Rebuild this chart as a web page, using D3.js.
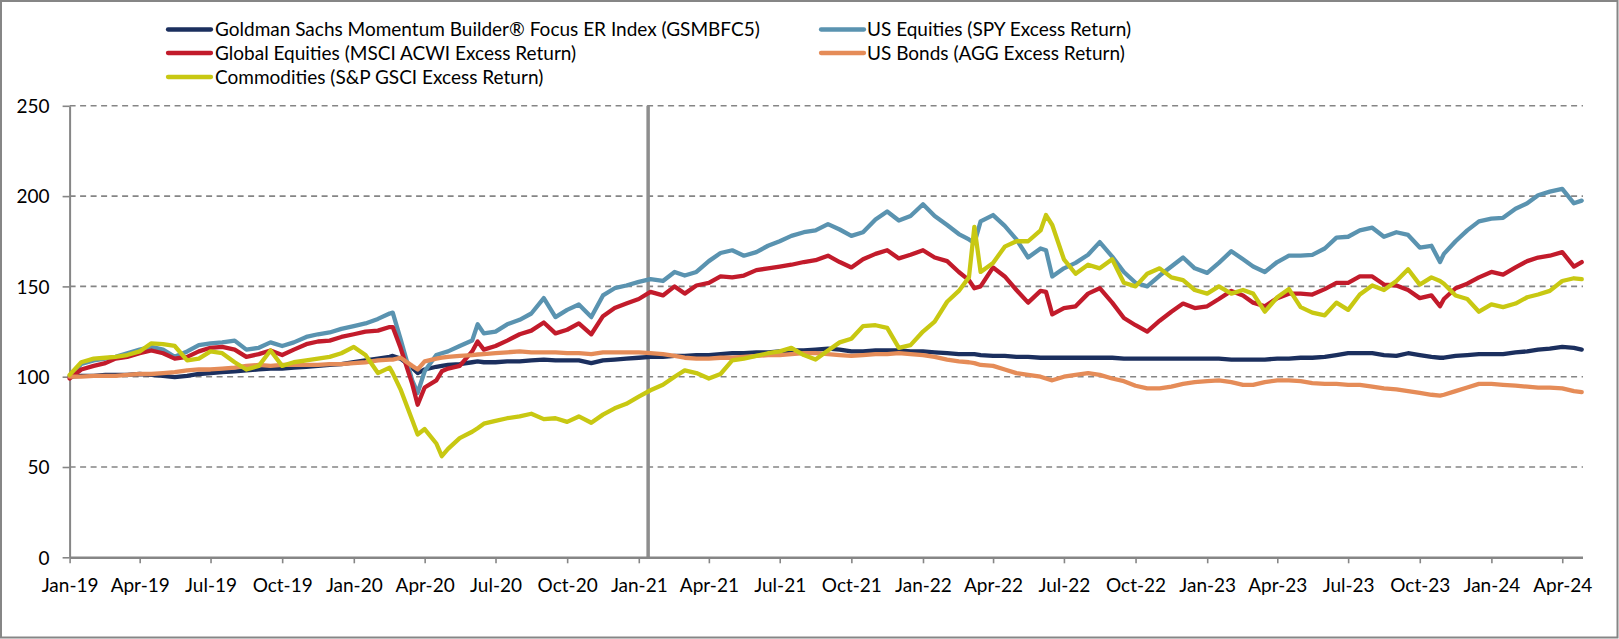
<!DOCTYPE html>
<html>
<head>
<meta charset="utf-8">
<script src="https://cdn.jsdelivr.net/npm/d3@7/dist/d3.min.js"></script>
<style>
  html, body { margin: 0; padding: 0; background: #fff; }
  svg { display: block; }
  text { font-family: Lato, "Liberation Sans", Arial, sans-serif; fill: #000; }
</style>
</head>
<body>
<svg id="chart" width="1619" height="639"></svg>
<script>
// ---------- DATA ----------
const dates = [
  "2019-01-01","2019-01-16","2019-02-01","2019-02-16","2019-03-01","2019-03-16","2019-04-01","2019-04-16","2019-05-01","2019-05-16","2019-06-01","2019-06-16",
  "2019-07-01","2019-07-16","2019-08-01","2019-08-16","2019-09-01","2019-09-16","2019-10-01","2019-10-16","2019-11-01","2019-11-16","2019-12-01","2019-12-16",
  "2020-01-01","2020-01-16","2020-02-01","2020-02-16","2020-02-20","2020-03-01","2020-03-16","2020-03-23","2020-04-01","2020-04-16","2020-04-23","2020-05-01","2020-05-16",
  "2020-06-01","2020-06-08","2020-06-16","2020-07-01","2020-07-16","2020-08-01","2020-08-16","2020-09-01","2020-09-16","2020-10-01","2020-10-16","2020-11-01","2020-11-16","2020-12-01","2020-12-16",
  "2021-01-01","2021-01-16","2021-02-01","2021-02-16","2021-03-01","2021-03-16","2021-04-01","2021-04-16","2021-05-01","2021-05-16","2021-06-01","2021-06-16",
  "2021-07-01","2021-07-16","2021-08-01","2021-08-16","2021-09-01","2021-09-16","2021-10-01","2021-10-16","2021-11-01","2021-11-16","2021-12-01","2021-12-16",
  "2022-01-01","2022-01-16","2022-02-01","2022-02-16","2022-03-01","2022-03-08","2022-03-16","2022-04-01","2022-04-16","2022-05-01","2022-05-16","2022-06-01","2022-06-08","2022-06-16",
  "2022-07-01","2022-07-16","2022-08-01","2022-08-16","2022-09-01","2022-09-16","2022-10-01","2022-10-16","2022-11-01","2022-11-16","2022-12-01","2022-12-16",
  "2023-01-01","2023-01-16","2023-02-01","2023-02-16","2023-03-01","2023-03-16","2023-04-01","2023-04-16","2023-05-01","2023-05-16","2023-06-01","2023-06-16",
  "2023-07-01","2023-07-16","2023-08-01","2023-08-16","2023-09-01","2023-09-16","2023-10-01","2023-10-16","2023-10-27","2023-11-01","2023-11-16","2023-12-01","2023-12-16",
  "2024-01-01","2024-01-16","2024-02-01","2024-02-16","2024-03-01","2024-03-16","2024-04-01","2024-04-16","2024-04-26"
];

const gsmbfc5 = [
  100,100.5,100.5,101,101,101,101.5,101,100.5,99.8,100.5,101.5,102,102.5,103,103.5,104,104.5,104.5,105,105.5,106,106.5,107,
  108,109,110,111,111.5,110,105,102,104,105.5,106,106.5,107,108,108.5,108,108,108.5,108.5,109,109.5,109,109,109,107.5,109,109.5,110,
  110.5,111,111,111.5,111.5,112,112,112.5,113,113,113.5,113.5,114,114.5,114.5,115,115.5,115,114,114,114.5,114.5,114.5,114,
  114,113.5,113,112.5,112.5,112.5,112,111.5,111.5,111,111,110.5,110.5,110.5,110.5,110.5,110.5,110.5,110.5,110,110,110,110,110,110,110,
  110,110,109.5,109.5,109.5,109.5,110,110,110.5,110.5,111,112,113,113,113,112,111.5,113,112,111,110.5,110.5,111.5,112,112.5,
  112.5,112.5,113.5,114,115,115.5,116.5,116,115
];

const spy = [
  100,107,109,110,111,113,115,116.5,115,111,114,117.5,118.5,119,120,115,116,119,117,119,122,123.5,124.5,126.5,
  128,129.5,132,135,135.5,121,98,91,103,112,113,114,117,120,129,124,125,129,131.5,135,143.5,133,137,140,133,145,149,150.5,
  152.5,154,153,158,156,158,164,168.5,170,167,169,172.5,175,178,180,181,184.5,181.5,178,180,187,191.5,186.5,189,
  195.5,189,184,179,176,174,186,189.5,183.5,176,166,171,170,155.5,160,163,167.5,174.5,166.5,158,152,150,156,161,166,160,
  157.5,163,169.5,165,161,158,163.5,167,167,167.5,171,177,177.5,181,182.5,177.5,180,178.5,171.5,172.5,163.5,168,175,181,186,
  187.5,188,193,196,200.5,202.5,204,196,197.5
];

const acwi = [
  99,104,106,107.5,110,111,113,114.5,113,110,111,114,116,116.5,115,111,112.5,114.5,112,115,118,119.5,120,122,
  123.5,125,125.5,127.5,127.5,116,96,84.5,94,98,103,104.5,106,114,119.5,115,117,120,123.5,125.5,130,124,126,129.5,123.5,133.5,138,140.5,
  143,147,145,150,146,150.5,152,155.5,155,156,159,160,161,162,163.5,164.5,167,163.5,160.5,165,168,170,165.5,167.5,
  170,166,164,158,153.5,149,150,160.5,155.5,148,141,147.5,147,134.5,138,139,146,149,141,132.5,128.5,125,131,136,140.5,138,
  139,143,147.5,145,141,139,143.5,146,146,145.5,148.5,152,152,155.5,155.5,151,150.5,148,143.5,145,139,143,149,151.5,155,
  158,156.5,160.5,164,166,167,169,161,163.5
];

const agg = [
  100,100,100.5,100.5,100.5,101,101.5,101.5,102,102.5,103.5,104,104,104.5,105,106,106.5,106,106.5,106.5,106.5,106.5,107,107,
  107.5,108,109,109.5,109.5,110.5,106,104,108.5,110,110.5,111,111.5,112,112.3,112.5,113,113.5,114,113.5,113.5,113.5,113,113,112.5,113.5,113.5,113.5,
  113.5,113,112.5,111.5,110.5,110,110,110.5,110.5,111,111.5,112,112,112.5,113,113,112.5,112,111.5,112,112.5,112.5,113,112.5,
  112,111,109.5,108.5,108,107.5,106.5,106,104,102,101,100,99,98,100,101,102,101,99,97.5,95,93.5,93.5,94.5,96,97,
  97.5,98,97,95.5,95.5,97,98,98,97.5,96.5,96,96,95.5,95.5,94.5,93.5,93,92,91,90,89.5,90,92,94,96,
  96,95.5,95,94.5,94,94,93.5,92,91.5
];

const gsci = [
  101,108,110,110.5,111,112,114,118.5,118,117,109,110,114,113,108,104,106,114.5,106,108,109,110,111,113,
  116.5,112,102,105,102,93,76,68,71,63,56,60,66,69.5,71.5,74,75.5,77,78,79.5,76.5,77,75,78,74.5,79,82.5,85,
  89,92.5,95.5,100,103.5,102,99,101.5,109,110,111.5,113,114,116,112,109.5,114.5,119,121,128,128.5,127,116,117.5,
  125,130.5,141.5,147.5,155,183,158,163,172,175,175,181,189.5,184,165,157,162,160,165,152,150,157,160,155,153.5,148,
  146,150,146,148,146,136,144,148.5,138.5,135.5,134,141,137,145.5,150.5,148,153,159.5,151,155,153,151.5,145,143,136,
  140,138.5,140.5,144,145.5,147.5,153,154.5,154
];

const seriesNames = [
  "Goldman Sachs Momentum Builder\u00AE Focus ER Index (GSMBFC5)",
  "US Equities (SPY Excess Return)",
  "Global Equities (MSCI ACWI Excess Return)",
  "US Bonds (AGG Excess Return)",
  "Commodities (S&P GSCI Excess Return)"
];
const seriesValues = [gsmbfc5, spy, acwi, agg, gsci];
const seriesColors = ["#1b2f5e", "#5a93b0", "#c21b2b", "#e58c58", "#c8c812"];

const xTickDates = [
  "2019-01-01","2019-04-01","2019-07-01","2019-10-01","2020-01-01","2020-04-01","2020-07-01","2020-10-01",
  "2021-01-01","2021-04-01","2021-07-01","2021-10-01","2022-01-01","2022-04-01","2022-07-01","2022-10-01",
  "2023-01-01","2023-04-01","2023-07-01","2023-10-01","2024-01-01","2024-04-01"
];
const yTicks = [0, 50, 100, 150, 200, 250];
const launchDate = "2021-01-13";
const xDomain = ["2019-01-01", "2024-04-27"];

// ---------- CHART ----------
const parse = d3.utcParse("%Y-%m-%d");
const fmt = d3.utcFormat("%b-%y");
const svg = d3.select("#chart");
const W = 1619, H = 639;

svg.append("rect").attr("x", 0).attr("y", 0).attr("width", W).attr("height", H).attr("fill", "#fff");
svg.append("rect").attr("x", 1).attr("y", 1).attr("width", W - 2.5).attr("height", H - 2.5)
  .attr("fill", "none").attr("stroke", "#868686").attr("stroke-width", 2);

const x = d3.scaleUtc().domain(xDomain.map(parse)).range([69.6, 1582.5]);
const y = d3.scaleLinear().domain([0, 250]).range([557.3, 105.8]);

// gridlines
svg.append("g").selectAll("line").data(yTicks.filter(v => v > 0)).join("line")
  .attr("x1", 69.6).attr("x2", 1583).attr("y1", d => y(d)).attr("y2", d => y(d))
  .attr("stroke", "#858585").attr("stroke-width", 1.6).attr("stroke-dasharray", "6,4.5");

// vertical launch line
svg.append("line").attr("x1", x(parse(launchDate))).attr("x2", x(parse(launchDate)))
  .attr("y1", y(250)).attr("y2", y(0)).attr("stroke", "#8e8e8e").attr("stroke-width", 3.5);

// axes
const yAxis = svg.append("g").attr("transform", `translate(${x.range()[0]},0)`)
  .call(d3.axisLeft(y).tickValues(yTicks).tickSize(7).tickSizeOuter(0).tickFormat(d3.format("d")));
yAxis.select(".domain").attr("stroke", "#868686").attr("stroke-width", 2);
yAxis.selectAll(".tick line").attr("stroke", "#868686").attr("stroke-width", 1.6);
yAxis.selectAll(".tick text").attr("x", -20).attr("dy", "0.36em")
  .style("font-size", "19px").attr("fill", "#000").style("font-family", null);

const xAxis = svg.append("g").attr("transform", `translate(0,${y(0)})`)
  .call(d3.axisBottom(x).tickValues(xTickDates.map(parse)).tickSize(6).tickSizeOuter(0).tickFormat(fmt));
xAxis.select(".domain").attr("stroke", "#868686").attr("stroke-width", 2.5);
xAxis.selectAll(".tick line").attr("stroke", "#868686").attr("stroke-width", 1.6);
xAxis.selectAll(".tick text").attr("y", 28).attr("dy", "0.36em")
  .style("font-size", "19px").attr("fill", "#000").style("font-family", null);

// lines
const line = d3.line().x((d, i) => x(parse(dates[i]))).y(d => y(d));
svg.append("g").selectAll("path").data(seriesValues).join("path")
  .attr("d", d => line(d))
  .attr("fill", "none")
  .attr("stroke", (d, i) => seriesColors[i])
  .attr("stroke-width", 4.3)
  .attr("stroke-linejoin", "round")
  .attr("stroke-linecap", "round");

// legend (two columns, row-major like Excel)
const legendPos = [
  { mx: 168, tx: 215, y: 29.5 },
  { mx: 821, tx: 867, y: 29.5 },
  { mx: 168, tx: 215, y: 53 },
  { mx: 821, tx: 867, y: 53 },
  { mx: 168, tx: 215, y: 77 }
];
const lg = svg.append("g");
seriesNames.forEach((name, i) => {
  const p = legendPos[i];
  lg.append("line").attr("x1", p.mx).attr("x2", p.mx + 43).attr("y1", p.y).attr("y2", p.y)
    .attr("stroke", seriesColors[i]).attr("stroke-width", 4.3).attr("stroke-linecap", "round");
  lg.append("text").attr("x", p.tx).attr("y", p.y).attr("dy", "0.36em")
    .style("font-size", "19px").text(name);
});
</script>
</body>
</html>
